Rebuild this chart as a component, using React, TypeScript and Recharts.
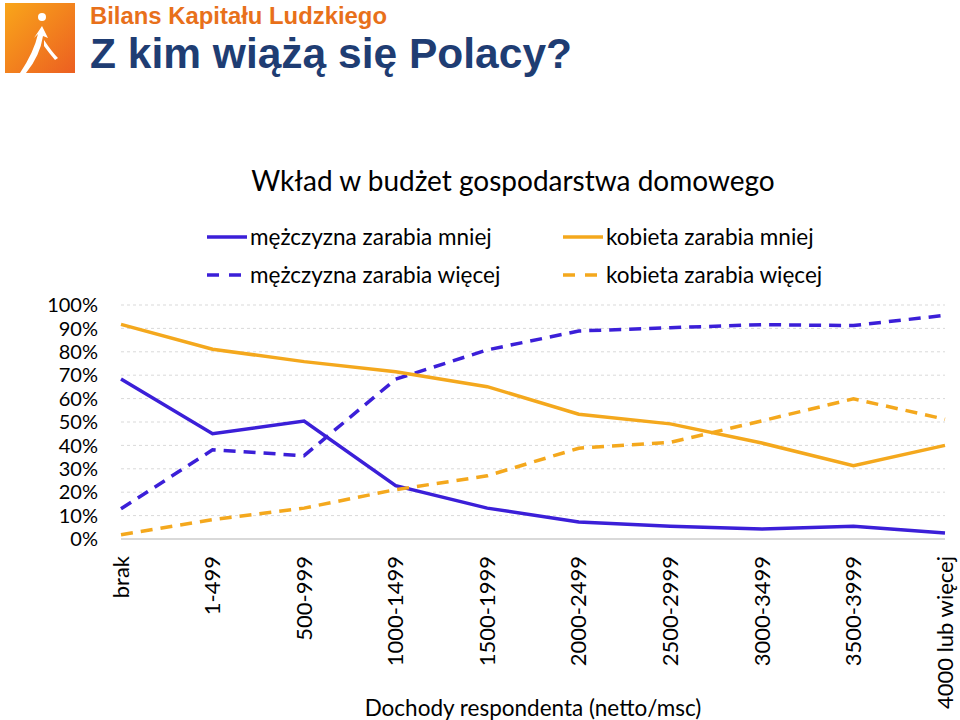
import { LineChart, Line, XAxis, YAxis, CartesianGrid, Legend, Label } from "recharts";

const categories = [
  "brak",
  "1-499",
  "500-999",
  "1000-1499",
  "1500-1999",
  "2000-2499",
  "2500-2999",
  "3000-3499",
  "3500-3999",
  "4000 lub więcej",
];

// udział (%) wg dochodu respondenta
const menEarnLess = [68.4, 45.0, 50.4, 22.8, 13.2, 7.3, 5.4, 4.3, 5.4, 2.6];
const menEarnMore = [12.9, 38.1, 35.6, 68.3, 80.8, 88.9, 90.3, 91.6, 91.2, 95.6];
const womenEarnLess = [91.7, 81.1, 75.8, 71.5, 65.1, 53.3, 49.2, 41.0, 31.3, 40.0];
const womenEarnMore = [1.8, 8.3, 13.2, 21.1, 27.0, 38.8, 41.3, 50.5, 59.9, 51.2];

const yTicks = [0, 10, 20, 30, 40, 50, 60, 70, 80, 90, 100];

const data = categories.map((name, i) => ({
  name,
  menLess: menEarnLess[i],
  menMore: menEarnMore[i],
  womenLess: womenEarnLess[i],
  womenMore: womenEarnMore[i],
}));

const BLUE = "#3b1fd8";
const ORANGE = "#f4a81d";
const FONT = "Lato, 'Open Sans', sans-serif";
const DASH = "12 8";

function RotatedTick({ x, y, payload }: any) {
  return (
    <text
      x={x}
      y={y + 4}
      transform={`rotate(-90, ${x}, ${y + 4})`}
      textAnchor="end"
      dy="0.35em"
      fontSize={22}
      fontFamily={FONT}
      fill="#000"
    >
      {payload.value}
    </text>
  );
}

function LegendBox({ payload }: any) {
  const items = payload || [];
  const order = ["menLess", "womenLess", "menMore", "womenMore"];
  const sorted = order
    .map((k) => items.find((p: any) => p.dataKey === k))
    .filter(Boolean);
  return (
    <div style={{ fontFamily: FONT, color: "#000" }}>
      <div style={{ textAlign: "center", fontSize: 28, marginLeft: 66, height: 61 }}>
        Wkład w budżet gospodarstwa domowego
      </div>
      <div
        style={{
          display: "grid",
          gridTemplateColumns: "356px 360px",
          rowGap: 13,
          marginLeft: 207,
          fontSize: 22.5,
        }}
      >
        {sorted.map((p: any) => (
          <div key={p.dataKey} style={{ display: "flex", alignItems: "center", height: 25 }}>
            <svg width={43} height={10}>
              <line
                x1={0}
                y1={5}
                x2={40}
                y2={5}
                stroke={p.color}
                strokeWidth={3.5}
                strokeDasharray={p.payload.strokeDasharray ? "12 10" : undefined}
              />
            </svg>
            <span>{p.value}</span>
          </div>
        ))}
      </div>
    </div>
  );
}

function Header() {
  return (
    <svg width={600} height={80} style={{ position: "absolute", left: 0, top: 0 }}>
      <defs>
        <linearGradient id="logoGrad" x1="0" y1="0" x2="1" y2="1">
          <stop offset="0%" stopColor="#f9a61a" />
          <stop offset="100%" stopColor="#ec5f21" />
        </linearGradient>
      </defs>
      <rect x={5} y={3} width={70} height={70} fill="url(#logoGrad)" />
      <circle cx={42} cy={17} r={4} fill="#fff" />
      <path d="M20 73 Q34 52 38 34 L34 38 L42 26 L48 38 L43 36 Q40 56 26 73 Z" fill="#fff" />
      <path d="M44 40 Q52 52 58 58 L55 60 Q49 53 44 46 Z" fill="#fff" />
      <text
        x={90}
        y={24}
        fontFamily="'Liberation Sans', Arial, sans-serif"
        fontWeight="bold"
        fontSize={23}
        fill="#e8701a"
        textLength={297}
        lengthAdjust="spacingAndGlyphs"
      >
        Bilans Kapitału Ludzkiego
      </text>
      <text
        x={90}
        y={68}
        fontFamily="'Liberation Sans', Arial, sans-serif"
        fontWeight="bold"
        fontSize={43}
        fill="#1f3d73"
        textLength={482}
        lengthAdjust="spacingAndGlyphs"
      >
        Z kim wiążą się Polacy?
      </text>
    </svg>
  );
}

export default function App() {
  return (
    <div style={{ position: "absolute", left: 0, top: 0, width: 960, height: 720, background: "#fff" }}>
      <Header />
      <LineChart
        width={960}
        height={720}
        data={data}
        margin={{ top: 305, right: 15, bottom: 0, left: 0 }}
      >
        <CartesianGrid vertical={false} stroke="#d9d9d9" strokeDasharray="3 3" />
        <XAxis
          dataKey="name"
          height={181}
          tick={<RotatedTick />}
          tickLine={false}
          tickSize={0}
          tickMargin={13}
          axisLine={{ stroke: "#d9d9d9", strokeWidth: 2 }}
          interval={0}
        >
          <Label
            value="Dochody respondenta (netto/msc)"
            position="insideBottom"
            offset={4}
            style={{ fontFamily: FONT, fontSize: 22.5, fill: "#000" }}
          />
        </XAxis>
        <YAxis
          width={121}
          domain={[0, 100]}
          ticks={yTicks}
          tickFormatter={(v) => `${v}%`}
          axisLine={false}
          tickLine={false}
          tickMargin={17}
          interval={0}
          tick={{ fontFamily: FONT, fontSize: 20, fill: "#000" }}
        />
        <Legend
          verticalAlign="top"
          align="left"
          content={<LegendBox />}
          wrapperStyle={{ top: 163, left: 0, width: 960, height: 0, overflow: "visible" }}
        />
        <Line
          dataKey="menLess"
          name="mężczyzna zarabia mniej"
          stroke={BLUE}
          strokeWidth={3.5}
          dot={false}
          isAnimationActive={false}
        />
        <Line
          dataKey="menMore"
          name="mężczyzna zarabia więcej"
          stroke={BLUE}
          strokeWidth={3.5}
          strokeDasharray={DASH}
          dot={false}
          isAnimationActive={false}
        />
        <Line
          dataKey="womenLess"
          name="kobieta zarabia mniej"
          stroke={ORANGE}
          strokeWidth={3.5}
          dot={false}
          isAnimationActive={false}
        />
        <Line
          dataKey="womenMore"
          name="kobieta zarabia więcej"
          stroke={ORANGE}
          strokeWidth={3.5}
          strokeDasharray={DASH}
          dot={false}
          isAnimationActive={false}
        />
      </LineChart>
    </div>
  );
}
